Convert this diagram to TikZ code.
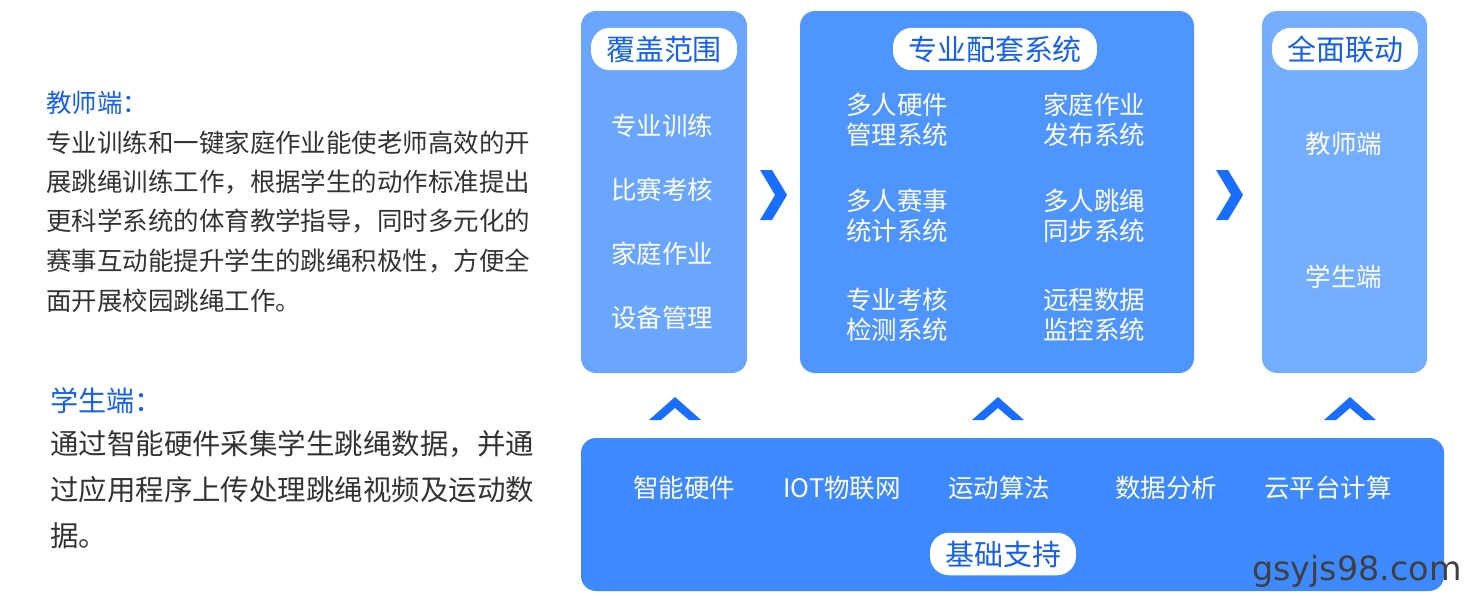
\documentclass[tikz,border=0pt]{standalone}
\usepackage{fontspec}
\setmainfont{Noto Sans CJK SC}
\newfontfamily\wmfont{DejaVu Sans}
\usetikzlibrary{positioning}
\definecolor{boxA}{HTML}{6AA6FF}
\definecolor{boxB}{HTML}{4F95FF}
\definecolor{boxC}{HTML}{76AEFF}
\definecolor{boxD}{HTML}{3F89FF}
\definecolor{chev}{HTML}{1A6EFF}
\definecolor{headblue}{HTML}{1560F0}
\definecolor{bodygray}{HTML}{333333}
\begin{document}
\begin{tikzpicture}[x=0.02cm, y=-0.02cm,
    panel/.style={rounded corners=0.3cm, inner sep=0pt},
    pill/.style={fill=white, rounded corners=0.38cm, minimum height=0.85cm, inner xsep=0.3cm, text=headblue, font=\fontsize{16.5}{16.5}\selectfont},
    item/.style={text=white, font=\fontsize{14.5}{17}\selectfont, align=left},
    side/.style={anchor=west, text=bodygray, font=\fontsize{14.5}{14.5}\selectfont},
    tag/.style={anchor=west, text=headblue, font=\fontsize{14.5}{14.5}\selectfont}
]
    \useasboundingbox (0,0) rectangle (1470,595);

    % left text
    \node[tag] (teacher) at (40,103) {教师端：};
    \foreach \t [count=\i] in {专业训练和一键家庭作业能使老师高效的开, 展跳绳训练工作，根据学生的动作标准提出, 更科学系统的体育教学指导，同时多元化的, 赛事互动能提升学生的跳绳积极性，方便全, 面开展校园跳绳工作。}
        \node[side] (tline\i) at (40,{103+39.5*\i}) {\t};
    \node[tag, font=\fontsize{16}{16}\selectfont] (student) at (44,401) {学生端：};
    \foreach \t [count=\i] in {通过智能硬件采集学生跳绳数据，并通, 过应用程序上传处理跳绳视频及运动数, 据。}
        \node[side, font=\fontsize{16.2}{16.2}\selectfont] (sline\i) at (44,{398+46*\i}) {\t};

    % panels
    \fill[boxA, panel] (581,11) rectangle (747,373);
    \fill[boxB, panel] (800,11) rectangle (1194,373);
    \fill[boxC, panel] (1262,11) rectangle (1427,373);
    \fill[boxD, panel] (581,438) rectangle (1444,591);

    \node[pill] (cover) at (664,49) {覆盖范围};
    \node[pill] (system) at (995,49) {专业配套系统};
    \node[pill] (link) at (1345,49) {全面联动};
    \node[pill] (base) at (1003,554) {基础支持};

    \foreach \t [count=\i] in {专业训练, 比赛考核, 家庭作业, 设备管理}
        \node[item] (cov\i) at (662,{62+64*\i}) {\t};

    \node[item] (sysA) at (897,120) {多人硬件\\管理系统};
    \node[item] (sysB) at (1094,120) {家庭作业\\发布系统};
    \node[item] (sysC) at (897,216) {多人赛事\\统计系统};
    \node[item] (sysD) at (1094,216) {多人跳绳\\同步系统};
    \node[item] (sysE) at (897,315) {专业考核\\检测系统};
    \node[item] (sysF) at (1094,315) {远程数据\\监控系统};

    \node[item] (end1) at (1344,144) {教师端};
    \node[item] (end2) at (1344,277) {学生端};

    \foreach \t/\x [count=\i] in {智能硬件/684, IOT物联网/842, 运动算法/999, 数据分析/1166, 云平台计算/1328}
        \node[item] (sup\i) at (\x,488) {\t};

    % chevrons
    \foreach \x in {760,1216}
        \fill[chev] (\x,170) -- (\x+12,170) -- (\x+27,195) -- (\x+12,220) -- (\x,220) -- (\x+15,195) -- cycle;
    \foreach \x in {675,998,1350}
        \fill[chev] (\x-26,420) -- (\x,397) -- (\x+26,420) -- (\x+14,420) -- (\x,408) -- (\x-14,420) -- cycle;

    \node[text=black!75, font=\wmfont\fontsize{19}{19}\selectfont] (mark) at (1357,571) {gsyjs98.com};
\end{tikzpicture}
\end{document}
